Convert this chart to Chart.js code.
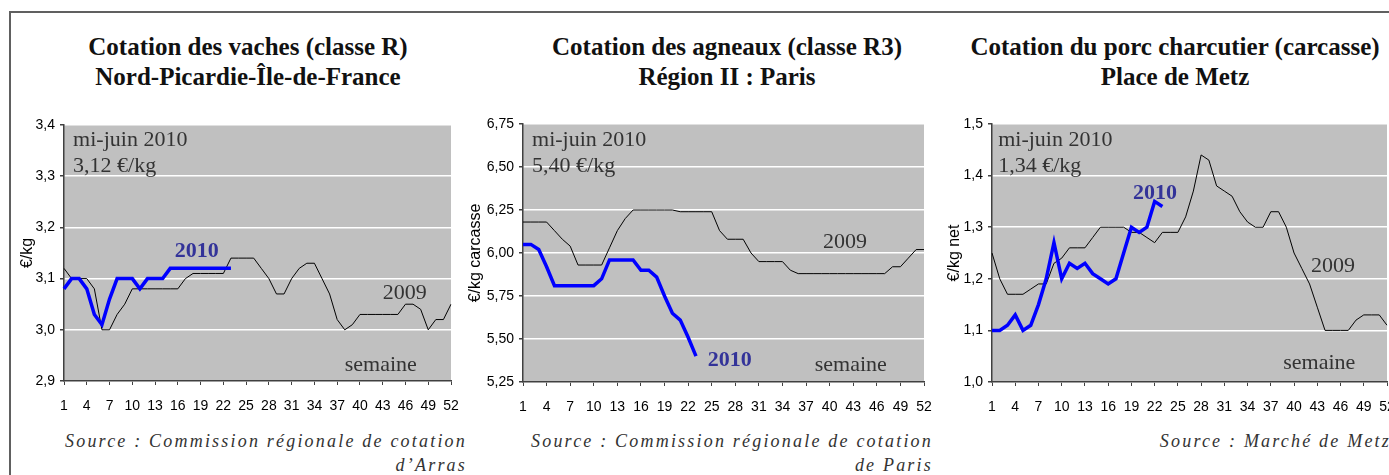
<!DOCTYPE html>
<html lang="fr">
<head>
<meta charset="utf-8">
<title>Cotations</title>
<script src="https://cdn.jsdelivr.net/npm/chart.js@4.4.0/dist/chart.umd.min.js"></script>
<style>
  body { margin: 0; background: #fff; }
  #page { position: relative; width: 1389px; height: 475px; overflow: hidden; }
  #frame { position: absolute; left: 9px; top: 11px; right: -5px; bottom: -5px; border-top: 2px solid #606060; border-left: 2px solid #606060; }
  .titre { position: absolute; top: 32px; font: bold 25px/30px "Liberation Serif", "Times New Roman", serif; color: #111; text-align: center; white-space: nowrap; }
  .source { position: absolute; top: 429px; left: 0; font: italic 18px/24px "Liberation Serif", serif; letter-spacing: 2.2px; color: #333; text-align: right; white-space: nowrap; }
  canvas { position: absolute; }
</style>
</head>
<body>
<div id="page">
  <div id="frame"></div>

  <div class="titre" style="left:0;width:496px">Cotation des vaches (classe R)<br>Nord-Picardie-Île-de-France</div>
  <div class="titre" style="left:477px;width:500px">Cotation des agneaux (classe R3)<br>Région II : Paris</div>
  <div class="titre" style="left:955px;width:440px">Cotation du porc charcutier (carcasse)<br>Place de Metz</div>

  <canvas id="vaches" width="450" height="310" style="left:10px;top:110px"></canvas>
  <canvas id="agneaux" width="474" height="310" style="left:460px;top:110px"></canvas>
  <canvas id="porc" width="454" height="310" style="left:935px;top:110px"></canvas>

  <div class="source" style="width:467px">Source : Commission régionale de cotation<br>d’Arras</div>
  <div class="source" style="width:933px">Source : Commission régionale de cotation<br>de Paris</div>
  <div class="source" style="width:1391px">Source : Marché de Metz</div>
</div>

<script>
'use strict';

// semaines
const weeks = ['1', '2', '3', '4', '5', '6', '7', '8', '9', '10', '11', '12', '13',
  '14', '15', '16', '17', '18', '19', '20', '21', '22', '23', '24', '25', '26',
  '27', '28', '29', '30', '31', '32', '33', '34', '35', '36', '37', '38', '39',
  '40', '41', '42', '43', '44', '45', '46', '47', '48', '49', '50', '51', '52'];

// vaches classe R (€/kg)
const vaches2009 = [3.12, 3.10, 3.10, 3.10, 3.08, 3.00, 3.00, 3.03, 3.05, 3.08,
  3.08, 3.08, 3.08, 3.08, 3.08, 3.08, 3.10, 3.11, 3.11, 3.11, 3.11, 3.11, 3.14,
  3.14, 3.14, 3.14, 3.12, 3.10, 3.07, 3.07, 3.10, 3.12, 3.13, 3.13, 3.10, 3.07,
  3.02, 3.00, 3.01, 3.03, 3.03, 3.03, 3.03, 3.03, 3.03, 3.05, 3.05, 3.04, 3.00,
  3.02, 3.02, 3.05];
const vaches2010 = [3.08, 3.10, 3.10, 3.08, 3.03, 3.01, 3.06, 3.10, 3.10, 3.10,
  3.08, 3.10, 3.10, 3.10, 3.12, 3.12, 3.12, 3.12, 3.12, 3.12, 3.12, 3.12, 3.12];

// agneaux R3 (€/kg carcasse)
const agneaux2009 = [6.18, 6.18, 6.18, 6.18, 6.13, 6.08, 6.04, 5.93, 5.93, 5.93,
  5.93, 6.03, 6.13, 6.20, 6.25, 6.25, 6.25, 6.25, 6.25, 6.25, 6.24, 6.24, 6.24,
  6.24, 6.24, 6.13, 6.08, 6.08, 6.08, 6.00, 5.95, 5.95, 5.95, 5.95, 5.90, 5.88,
  5.88, 5.88, 5.88, 5.88, 5.88, 5.88, 5.88, 5.88, 5.88, 5.88, 5.88, 5.92, 5.92,
  5.97, 6.02, 6.02];
const agneaux2010 = [6.05, 6.05, 6.02, 5.92, 5.81, 5.81, 5.81, 5.81, 5.81, 5.81,
  5.85, 5.96, 5.96, 5.96, 5.96, 5.90, 5.90, 5.86, 5.75, 5.65, 5.61, 5.51, 5.40];

// porc charcutier (€/kg net)
const porc2009 = [1.25, 1.20, 1.17, 1.17, 1.17, 1.18, 1.19, 1.19, 1.23, 1.24,
  1.26, 1.26, 1.26, 1.28, 1.30, 1.30, 1.30, 1.30, 1.29, 1.29, 1.28, 1.27, 1.29,
  1.29, 1.29, 1.32, 1.37, 1.44, 1.43, 1.38, 1.37, 1.36, 1.33, 1.31, 1.30, 1.30,
  1.33, 1.33, 1.30, 1.25, 1.22, 1.19, 1.145, 1.10, 1.10, 1.10, 1.10, 1.12, 1.13,
  1.13, 1.13, 1.11];
const porc2010 = [1.10, 1.10, 1.11, 1.13, 1.10, 1.11, 1.15, 1.20, 1.27, 1.20,
  1.23, 1.22, 1.23, 1.21, 1.20, 1.19, 1.20, 1.25, 1.30, 1.29, 1.30, 1.35, 1.34];

const axisColor = '#404040';
const noteFont = '22px "Liberation Serif", serif';
const noteColor = '#333333';
const blueNote = { font: 'bold 22px "Liberation Serif", serif', color: '#333399' };

// gray plot area, drawn before grid and lines
const plotBackground = {
  id: 'plotBackground',
  beforeDraw(chart) {
    const { ctx, chartArea } = chart;
    ctx.save();
    ctx.fillStyle = '#c0c0c0';
    ctx.fillRect(chartArea.left, chartArea.top, chartArea.right - chartArea.left, chartArea.bottom - chartArea.top);
    ctx.restore();
  }
};

// texts placed in week / value units
function plotNotes(notes) {
  return {
    id: 'plotNotes',
    afterDraw(chart) {
      const { ctx, scales } = chart;
      ctx.save();
      ctx.textAlign = 'left';
      ctx.textBaseline = 'alphabetic';
      for (const n of notes) {
        ctx.font = n.font || noteFont;
        ctx.fillStyle = n.color || noteColor;
        ctx.fillText(n.text, scales.x.getPixelForValue(n.week - 1), scales.y.getPixelForValue(n.value));
      }
      ctx.restore();
    }
  };
}

function makeChart(id, cfg) {
  return new Chart(document.getElementById(id), {
    type: 'line',
    data: {
      labels: weeks,
      datasets: [{
        label: '2010',
        data: cfg.y2010,
        borderColor: '#0000ff',
        borderWidth: 3.5,
        pointRadius: 0,
        tension: 0
      }, {
        label: '2009',
        data: cfg.y2009,
        borderColor: '#000000',
        borderWidth: 1,
        pointRadius: 0,
        tension: 0
      }]
    },
    options: {
      responsive: false,
      animation: false,
      events: [],
      layout: { padding: cfg.padding },
      plugins: {
        legend: { display: false },
        tooltip: { enabled: false }
      },
      scales: {
        x: {
          grid: {
            drawOnChartArea: false,
            tickLength: 4,
            tickColor: (c) => (c.index % 3 === 0 ? axisColor : 'rgba(0,0,0,0)')
          },
          border: { color: axisColor, width: 1.5 },
          ticks: {
            autoSkip: false,
            maxRotation: 0,
            padding: 13,
            color: '#000',
            font: { family: '"Liberation Sans Narrow", "Liberation Sans", Arial, sans-serif', size: 14 },
            callback: (v, i) => (i % 3 === 0 ? weeks[i] : '')
          },
          afterFit: (s) => { s.height = 38; s.paddingLeft = 0; s.paddingRight = 0; }
        },
        y: {
          min: cfg.min,
          max: cfg.max,
          ticks: {
            stepSize: cfg.step,
            padding: 5,
            color: '#000',
            font: { family: '"Liberation Sans", Arial, sans-serif', size: 14 },
            callback: (v) => v.toFixed(cfg.decimals).replace('.', ',')
          },
          grid: { color: '#ffffff', lineWidth: 1.5, tickLength: 4, tickColor: axisColor },
          border: { color: axisColor, width: 1.5 },
          title: {
            display: true,
            text: cfg.unit,
            color: '#000',
            font: { family: '"Liberation Sans", Arial, sans-serif', size: 16 },
            padding: { top: cfg.titlePad, bottom: 0 }
          },
          afterFit: (s) => { s.width = cfg.axisWidth; s.paddingTop = 0; s.paddingBottom = 0; }
        }
      }
    },
    plugins: [plotBackground, plotNotes(cfg.notes)]
  });
}

makeChart('vaches', {
  y2009: vaches2009, y2010: vaches2010,
  min: 2.9, max: 3.4, step: 0.1, decimals: 1, unit: '€/kg',
  axisWidth: 54, titlePad: 8,
  padding: { left: 0, top: 15, right: 9, bottom: 1 },
  notes: [
    { text: 'mi-juin 2010', week: 2.2, value: 3.359 },
    { text: '3,12 €/kg', week: 2.2, value: 3.308 },
    { text: '2010', week: 15.6, value: 3.142, ...blueNote },
    { text: '2009', week: 43.0, value: 3.060 },
    { text: 'semaine', week: 38.0, value: 2.920 }
  ]
});

makeChart('agneaux', {
  y2009: agneaux2009, y2010: agneaux2010,
  min: 5.25, max: 6.75, step: 0.25, decimals: 2, unit: '€/kg carcasse',
  axisWidth: 63, titlePad: 6,
  padding: { left: 0, top: 14, right: 10, bottom: 0 },
  notes: [
    { text: 'mi-juin 2010', week: 2.15, value: 6.622 },
    { text: '5,40 €/kg', week: 2.15, value: 6.471 },
    { text: '2009', week: 39.15, value: 6.029 },
    { text: '2010', week: 24.5, value: 5.343, ...blueNote },
    { text: 'semaine', week: 38.1, value: 5.314 }
  ]
});

makeChart('porc', {
  y2009: porc2009, y2010: porc2010,
  min: 1.0, max: 1.5, step: 0.1, decimals: 1, unit: '€/kg net',
  axisWidth: 57, titlePad: 10,
  padding: { left: 0, top: 14, right: 2, bottom: 0 },
  notes: [
    { text: 'mi-juin 2010', week: 1.8, value: 1.457 },
    { text: '1,34 €/kg', week: 1.8, value: 1.407 },
    { text: '2010', week: 19.2, value: 1.355, ...blueNote },
    { text: '2009', week: 42.2, value: 1.213 },
    { text: 'semaine', week: 38.6, value: 1.025 }
  ]
});
</script>
</body>
</html>
